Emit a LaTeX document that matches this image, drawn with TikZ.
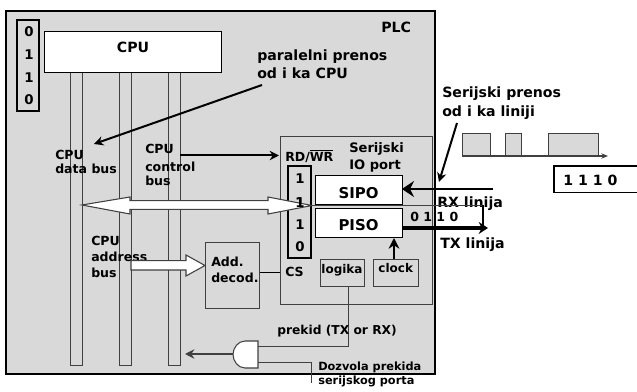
\documentclass[tikz,border=0pt]{standalone}
\usepackage{fontspec}
\setmainfont{DejaVu Sans}
\definecolor{plcgray}{HTML}{D9D9D9}
\definecolor{edge}{HTML}{404040}
\usetikzlibrary{arrows.meta}
\tikzset{
  x=0.75pt,y=-0.75pt,
  lbl/.style={font=\fontsize{9.4}{10}\selectfont\bfseries,inner sep=0pt,anchor=west,text=black},
  big/.style={lbl,font=\fontsize{10.6}{11}\selectfont\bfseries},
  par/.style={lbl,font=\fontsize{9.8}{11}\selectfont\bfseries},
  small/.style={lbl,font=\fontsize{8.5}{10}\selectfont\bfseries},
  dig/.style={lbl,anchor=center,font=\fontsize{10}{11}\selectfont\bfseries},
  whitebox/.style={draw=black,fill=white,line width=0.75pt},
  graybox/.style={draw=edge,fill=plcgray,line width=0.75pt},
  ptr/.style={draw=black,line width=1.5pt,-{Stealth[length=7pt,width=7pt]}},
  wire/.style={draw=edge,line width=0.7pt},
  hollow/.style={draw=edge,fill=white,line width=0.8pt,line join=miter}
}
\begin{document}
\begin{tikzpicture}
\useasboundingbox (0,0) rectangle (637,392);
\fill[white] (0,0) rectangle (637,392);
% PLC
\coordinate (plcA) at (6,10.7); \coordinate (plcB) at (435,374);
\draw[draw=black,fill=plcgray,line width=1.6pt] (plcA) rectangle (plcB);
\node[big] (plc) at (381,27) {PLC};
% Register 0110
\coordinate (regA) at (17,20); \coordinate (regB) at (39,111);
\draw[graybox,draw=black,line width=1.1pt] (regA) rectangle (regB);
\node[dig] (r1) at (29,32) {0};
\node[dig] (r2) at (29,55) {1};
\node[dig] (r3) at (29,78) {1};
\node[dig] (r4) at (29,100) {0};
% Buses
\coordinate (b1a) at (70,73); \coordinate (b1b) at (82,366);
\coordinate (b2a) at (119,73); \coordinate (b2b) at (131,366);
\coordinate (b3a) at (168,73); \coordinate (b3b) at (180,366);
\draw[graybox] (b1a) rectangle (b1b);
\draw[graybox] (b2a) rectangle (b2b);
\draw[graybox] (b3a) rectangle (b3b);
% CPU
\coordinate (cpuA) at (44.5,32); \coordinate (cpuB) at (221.5,73);
\draw[whitebox] (cpuA) rectangle (cpuB);
\node[big,anchor=center] (cpu) at (133,47) {CPU};
% Port
\coordinate (portA) at (280,137); \coordinate (portB) at (432,305);
\draw[graybox] (portA) rectangle (portB);
\node[par] (ser) at (349,149) {Serijski};
\node[par] (iop) at (349,166) {IO port};
\node[lbl] (rdwr) at (285,156) {RD/$\overline{\mbox{WR}}$};
\node[lbl] (cs) at (285,272) {CS};
% Inner register
\coordinate (ir1) at (288,166); \coordinate (ir2) at (311,258);
\draw[graybox,draw=black,line width=1.1pt] (ir1) rectangle (ir2);
\node[dig] (d1) at (300,179) {1};
\node[dig] (d2) at (300,203) {1};
\node[dig] (d3) at (300,225) {1};
\node[dig] (d4) at (300,247) {0};
% SIPO PISO
\coordinate (sA) at (315,176); \coordinate (sB) at (402,205);
\coordinate (pA) at (315,209); \coordinate (pB) at (402,238);
\draw[whitebox] (sA) rectangle (sB);
\draw[whitebox] (pA) rectangle (pB);
\node[big,font=\fontsize{11.2}{12}\selectfont\bfseries,anchor=center] (sipo) at (358.5,193) {SIPO};
\node[big,font=\fontsize{11.2}{12}\selectfont\bfseries,anchor=center] (piso) at (358.5,225) {PISO};
% logika clock
\node[graybox,minimum width=44pt*0.75,minimum height=27pt*0.75,inner sep=0pt] (logika) at (342,273.5) {};
\node[graybox,minimum width=44.5pt*0.75,minimum height=27pt*0.75,inner sep=0pt] (clockb) at (395.75,273.5) {};
\node[lbl,font=\fontsize{9}{10}\selectfont\bfseries,anchor=center] at (342,270) {logika};
\node[lbl,font=\fontsize{9}{10}\selectfont\bfseries,anchor=center] at (395.75,268) {clock};
% Address decoder
\coordinate (dA) at (205.5,243); \coordinate (dB) at (259.5,309);
\draw[graybox] (dA) rectangle (dB);
\node[lbl] (add) at (211,262) {Add.};
\node[lbl] (dec) at (211,278) {decod.};
\draw[wire,draw=black] (259.5,272) -- (280,272);
% Bus labels
\node[lbl] at (55,155) {CPU};
\node[lbl] at (55,169) {data bus};
\node[lbl] at (145,149) {CPU};
\node[lbl] at (145,167) {control};
\node[lbl] at (145,181) {bus};
\node[lbl] at (91,241) {CPU};
\node[lbl] at (91,257) {address};
\node[lbl] at (91,273) {bus};
% Double hollow arrow
\draw[hollow] (82,205) -- (130,197) -- (130,200.7) -- (268,200.7) -- (268,197) -- (312,205.5) -- (268,214) -- (268,209.3) -- (130,209.3) -- (130,214) -- cycle;
\node[dig] at (300,203) {1};
% Address arrow
\draw[hollow] (131,260.7) -- (186,260.7) -- (186,255) -- (205,265.5) -- (186,276) -- (186,270) -- (131,270) -- cycle;
% Pointers
\coordinate (parF) at (262,85); \coordinate (parT) at (94,144);
\draw[ptr] (parF) -- (parT);
\node[big] (par1) at (257,56.5) {paralelni prenos};
\node[big] (par2) at (257,73) {od i ka CPU};
\draw[ptr] (180,155.5) -- (279,155.5);
% right side
\node[big] (ser1) at (442,94) {Serijski prenos};
\node[big] (ser2) at (442,113) {od i ka liniji};
\coordinate (serF) at (457,123); \coordinate (serT) at (439,182);
\draw[ptr] (serF) -- (serT);
% Waveform
\draw[graybox] (462,134) rectangle (490,156);
\draw[graybox] (505.5,134) rectangle (521.5,156);
\draw[graybox] (548.5,134) rectangle (598,156);
\draw[draw=edge,line width=0.8pt,-{Stealth[length=5pt,width=4pt]}] (462,156) -- (608,156);
\coordinate (boxA) at (554,166); \coordinate (boxB) at (637,192.7);
\draw[draw=black,line width=1.1pt,fill=white] (boxB |- boxA) -- (boxA) -- (boxA |- boxB) -- (boxB);
\node[big] (w) at (563,180) {1 1 1 0};
% RX TX
\node[big] (rx) at (437,204) {RX linija};
\node[big] (tx) at (440,245) {TX linija};
\node[lbl] (z) at (410,216.5) {0 1 1 0};
\draw[draw=black,line width=2pt,-{Stealth[length=9pt,width=12pt]}] (493,189) -- (sB |- 0,189);
\draw[draw=edge,line width=0.9pt] (312,205.5) -- (483,205.5);
\draw[draw=black,line width=1.5pt] (483,205.5) -- (483,228);
\draw[draw=black,line width=3pt,-{Stealth[length=7pt,width=9pt]}] (402,228) -- (488,228);
\draw[draw=black,line width=1.4pt,-{Stealth[length=8pt,width=8pt]}] (clockb.north -| 394,0) -- (394,238);
% Gate
\coordinate (gR) at (258,341);
\draw[hollow] (258,341) -- (245,341) .. controls (238,341) and (233,348) .. (233,354.5) .. controls (233,361) and (238,368) .. (245,368) -- (258,368) -- cycle;
\draw[draw=edge,line width=1.5pt,-{Stealth[length=7pt,width=7pt]}] (233,354) -- (185,354);
\draw[wire] (logika.south -| 348.5,0) -- (348.5,346.5) -- (258,346.5);
\draw[wire] (258,362) -- (311.7,362) -- (311.7,382.7);
\node[lbl,font=\fontsize{9.2}{10}\selectfont\bfseries] (pk) at (277,331) {prekid (TX or RX)};
\node[small] (dz) at (318,367) {Dozvola prekida};
\node[small] (sp) at (318,381) {serijskog porta};
\end{tikzpicture}
\end{document}
